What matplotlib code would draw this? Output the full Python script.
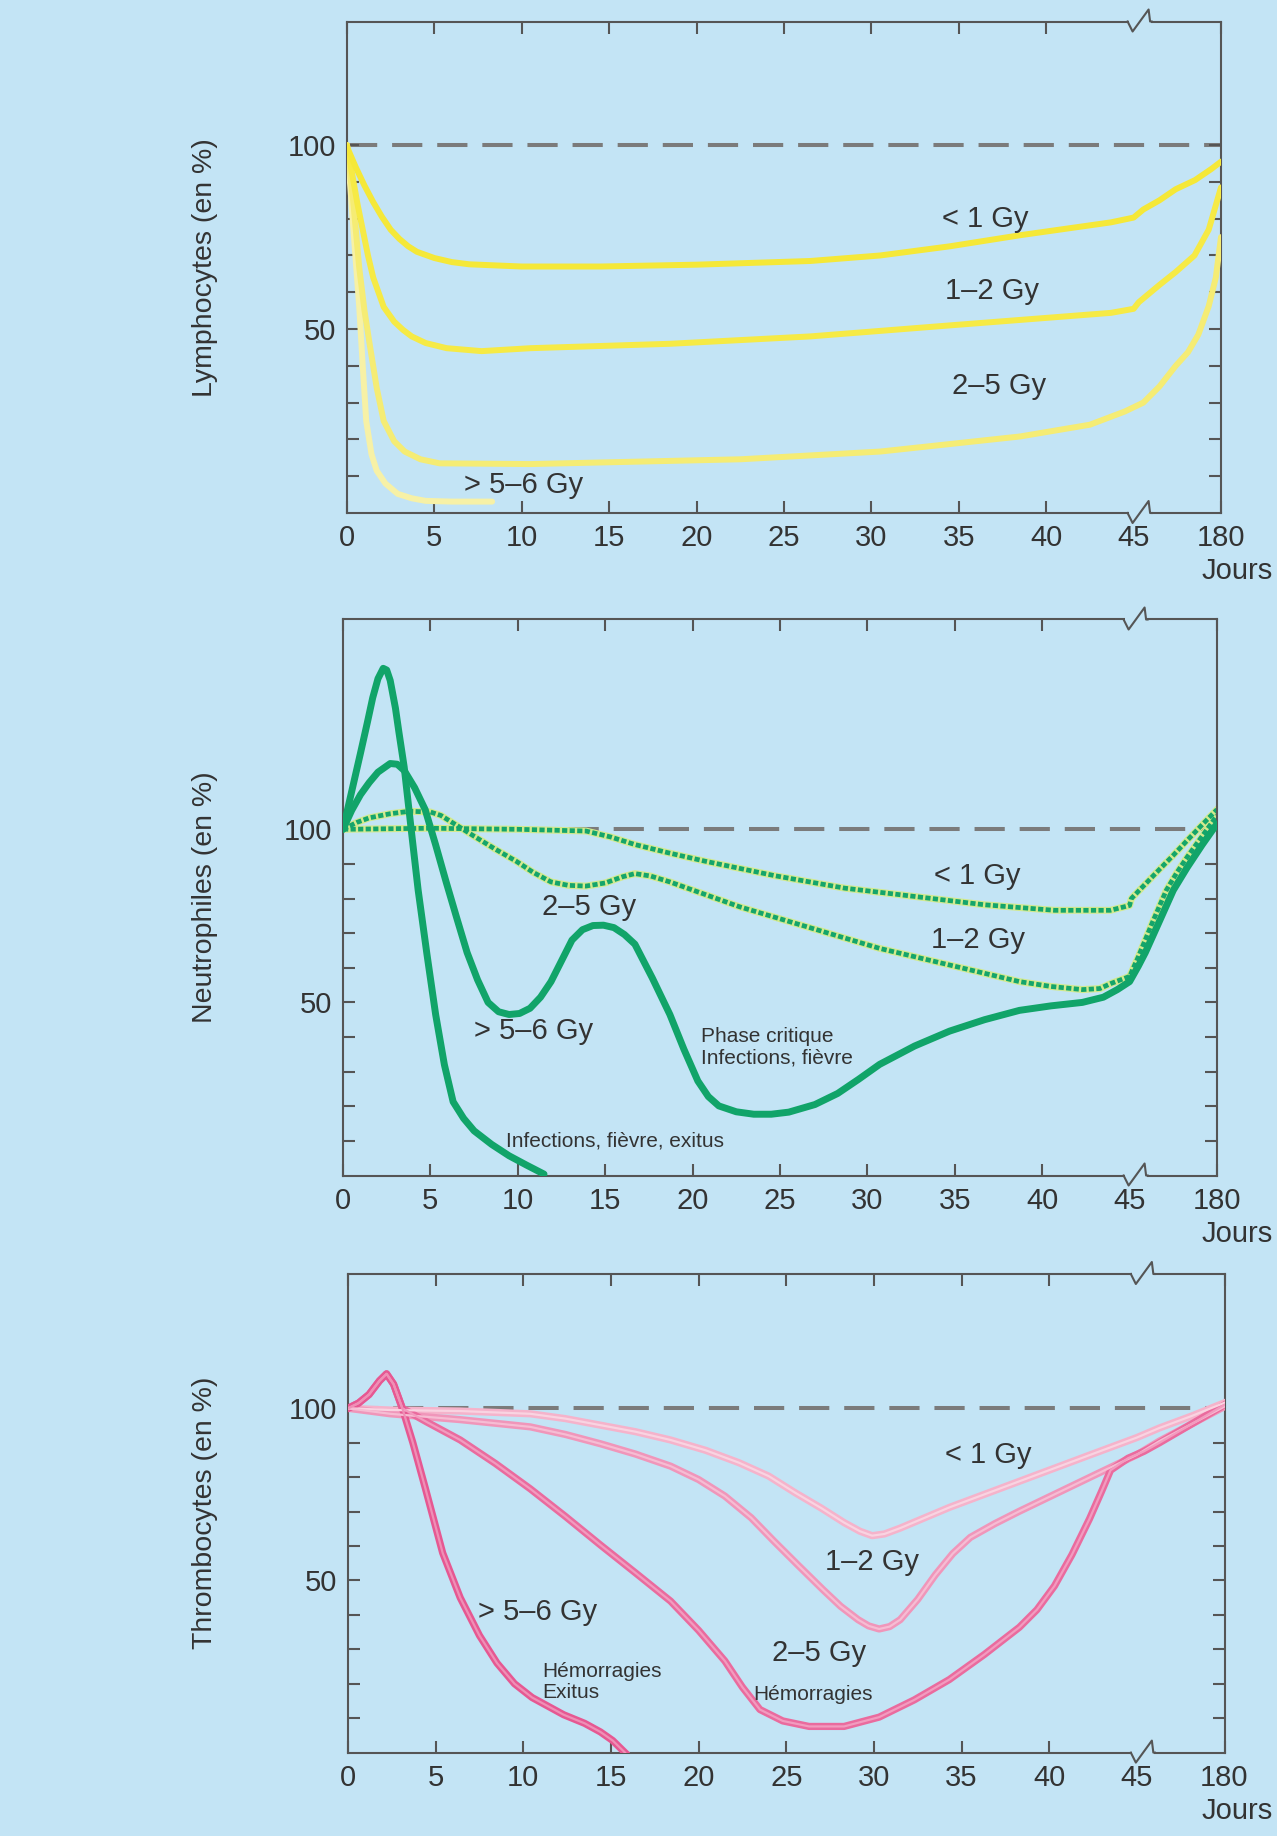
"""
Évolution des lymphocytes, neutrophiles et thrombocytes après irradiation
(en % de la valeur initiale) selon la dose reçue.
"""
import matplotlib
matplotlib.use("Agg")
import numpy as np
import matplotlib.pyplot as plt
from matplotlib.lines import Line2D
from matplotlib.transforms import IdentityTransform

plt.rcParams["font.family"] = ["Liberation Sans", "DejaVu Sans"]

# x axis: 0..45 days linear, then a break, last tick = 180 days
XTICK_DAYS = [0, 5, 10, 15, 20, 25, 30, 35, 40, 45, 180]
XTICK_LABELS = ["0", "5", "10", "15", "20", "25", "30", "35", "40", "45", "180"]
DOSES = ["< 1 Gy", "1–2 Gy", "2–5 Gy", "> 5–6 Gy"]

# DATA: day -> % of initial count
LYMPH_LT1_D = [0, 0.5, 1, 1.5, 2, 2.5, 3, 3.5, 4, 5, 6, 7, 10, 14.5, 20, 26.5, 30.5, 34.5, 38.5,
               43.7, 45, 60, 85, 110, 140, 165, 180]
LYMPH_LT1_V = [99.5, 94, 89, 84.5, 80.5, 77, 74.5, 72.5, 71, 69.3, 68.2, 67.6, 67, 67, 67.5, 68.5, 70,
               72.5, 75.5, 79, 80.3, 82.5, 85, 88, 90.5, 93.5, 95.5]
LYMPH_12_D = [0, 0.3, 0.6, 0.9, 1.2, 1.5, 2.1, 2.7, 3.2, 3.7, 4.5, 5.7, 7.7, 10.5, 18.5, 26.5, 34.5,
              43.7, 45, 53, 85, 110, 139, 161, 180]
LYMPH_12_V = [100, 92, 84, 77, 70, 64, 56, 52, 49.8, 48, 46.2, 44.8, 44, 44.8, 46, 48, 51,
              54.4, 55.5, 57.3, 62, 65.5, 70, 77, 88.5]
LYMPH_25_D = [0, 0.35, 0.7, 1, 1.3, 1.7, 2.1, 2.7, 3.3, 4.2, 5.3, 10.5, 22.5, 30.5, 38.5, 42.5,
              44.5, 60, 85, 110, 129, 145, 161, 172, 180]
LYMPH_25_V = [100, 85, 66.7, 55, 45.8, 34, 25, 19.5, 16.7, 14.6, 13.5, 13.3, 14.6, 16.7, 20.8, 24,
              27.6, 30, 34.4, 40, 43.7, 48.5, 56.2, 64, 75]
LYMPH_56_D = [0, 0.2, 0.4, 0.7, 0.9, 1.1, 1.4, 1.7, 2.2, 2.9, 3.7, 4.5, 6, 8.3]
LYMPH_56_V = [100, 88, 75, 56, 40, 25, 16, 11.5, 8, 5.2, 4, 3.3, 3.1, 3.1]

NEUT_LT1_D = [0, 5, 10, 13.9, 15.3, 16.7, 18.7, 20.7, 24.7, 28.7, 32.7, 36.7, 40.7, 43.9, 45,
              47.7, 91, 112.5, 134, 158, 180]
NEUT_LT1_V = [100, 100.3, 100, 99.5, 97.8, 95.6, 93.1, 90.8, 86.6, 83, 80.6, 78.2, 76.6, 76.6, 78,
              80, 88.4, 92.5, 96.8, 101.5, 105.7]
NEUT_12_D = [0, 0.8, 1.5, 2.7, 3.8, 5, 5.6, 6.3, 7.5, 8.7, 9.9, 10.9, 11.9, 12.9, 13.9, 15, 16,
             16.7, 17.6, 18.7, 22.7, 26.7, 30.7, 34.7, 38.7, 40.5, 42.3, 43.3, 43.9, 45, 58.5, 80,
             101.7, 118, 134, 157, 180]
NEUT_12_V = [100, 102, 103.3, 104.5, 105.2, 105, 104, 101.8, 98, 94.3, 90.8, 87.5, 84.8, 83.8, 83.6,
             84.5, 86.3, 87.2, 86.5, 84.8, 77.6, 71.6, 65.6, 60.8, 56, 54.6, 53.7, 54, 55.4, 57.5,
             63.2, 73, 82.4, 87.5, 92, 98, 104]
NEUT_25_D = [0, 0.5, 1, 1.5, 2, 2.7, 3.1, 3.5, 4.1, 4.7, 5.3, 5.9, 6.5, 7.1, 7.7, 8.3, 8.9, 9.5,
             10.1, 10.7, 11.3, 11.9, 12.5, 13.1, 13.7, 14.3, 14.9, 15.5, 16.1, 16.7, 17.7, 18.7,
             19.5, 20.3, 20.9, 21.5, 22.5, 23.5, 24.5, 25.5, 27, 28.3, 29.5, 30.7, 32.7, 34.7,
             36.7, 38.7, 40.5, 42.3, 43.5, 44.3, 45, 58.5, 69.3, 90, 112.5, 134, 157, 180]
NEUT_25_V = [100, 105.5, 110, 113.5, 116.5, 119, 118.8, 117, 112, 105.7, 95.5, 84.8, 74.5, 64.4,
             56.5, 50, 47.3, 46.5, 46.8, 48.3, 51.5, 56, 62, 68, 71, 72.2, 72.3, 71.6, 69.6, 66.8,
             57, 46.5, 36.5, 27.3, 22.8, 20.1, 18.4, 17.7, 17.7, 18.3, 20.5, 23.7, 27.8, 32.1, 37.4,
             41.7, 45, 47.7, 49, 50, 51.5, 53.7, 56, 60.5, 64.4, 73, 82.4, 89, 95.5, 101.6]
NEUT_56_D = [0, 0.5, 1, 1.4, 1.7, 2, 2.3, 2.5, 2.7, 3, 3.2, 3.5, 3.9, 4.3, 4.8, 5.3, 5.8, 6.3,
             6.9, 7.5, 8.5, 9.5, 10.5, 11.5]
NEUT_56_V = [100, 111, 122, 131, 138, 143.5, 146.5, 146, 143, 135, 128, 118, 100, 82.4, 64, 46.5,
             32, 21.3, 16.5, 12.9, 9, 5.7, 3, 0.4]

THROMB_LT1_D = [0, 2.4, 6.4, 10.4, 12.4, 14.4, 16.4, 18.4, 20.4, 22.3, 24, 25.5, 27, 28.3, 29.2,
                29.9, 30.6, 31.5, 34.3, 38.3, 42.3, 45, 80, 130, 180]
THROMB_LT1_V = [100, 99.5, 99.2, 98.4, 97, 95.1, 93.2, 90.8, 87.8, 84.2, 80.3, 75.5, 71, 66.8, 64.3,
                63, 63.5, 65.2, 71.2, 78.8, 86.4, 91.5, 94.3, 97.8, 101.6]
THROMB_12_D = [0, 2.4, 6.4, 10.4, 12.4, 14.4, 16.4, 18.4, 20, 21.5, 23, 24.3, 25.7, 27.1, 28.1,
               29.1, 29.7, 30.3, 30.9, 31.5, 32.5, 33.5, 34.5, 35.5, 36.9, 38.3, 40.3, 42.3, 45,
               80, 130, 180]
THROMB_12_V = [100, 98.4, 96.7, 94.6, 92.4, 89.7, 86.7, 83.2, 79.3, 74.5, 68.2, 61.4, 54.3, 47.3,
               42.5, 38.6, 36.8, 35.9, 36.6, 38.6, 44.5, 51.6, 57.8, 62.5, 66.5, 70.1, 75, 79.9,
               86.5, 90.5, 95.5, 100.5]
THROMB_25_D = [0, 0.6, 1.2, 1.8, 2.2, 2.6, 3.1, 4.5, 6.4, 8.4, 10.4, 12.4, 14.4, 16.4, 18.4, 20,
               21.5, 22.5, 23.5, 24.8, 26.3, 28.3, 30.3, 32.3, 34.3, 36.3, 38.3, 39.3, 40.3, 41.3,
               42.3, 43, 43.5, 44.5, 56, 80, 130, 180]
THROMB_25_V = [100, 101.5, 104, 108, 110, 107, 100, 96, 90.8, 84, 76.6, 68.6, 60.3, 52.2, 44, 35.5,
               26.6, 19, 12.5, 9.2, 7.6, 7.6, 10.3, 15.3, 21.2, 28.5, 36.4, 41.5, 48.4, 57.5,
               67.9, 76, 82, 85.5, 87.5, 90, 95.5, 101]
THROMB_56_D = [0, 0.6, 1.2, 1.8, 2.2, 2.6, 3.1, 3.7, 4.4, 5.4, 6.4, 7.5, 8.5, 9.5, 10.5, 12.3,
               13.5, 14.4, 15.1, 15.8]
THROMB_56_V = [100, 101.5, 104, 108, 110, 107, 100, 90, 77, 58, 45, 34, 26, 20, 16, 11, 8.5, 6,
               3.5, 0]

BG = "#C3E4F5"
SPINE = "#555555"
TXT = "#333333"
REF_GREY = "#7b7b7b"


def to_pos(days):
    """0-45 days linear, 45-180 squeezed into 5 units after the break."""
    d = np.asarray(days, dtype=float)
    return np.where(d <= 45, d, 45 + (d - 45) * 5.0 / 135.0)


def setup_axes(ax, ytop):
    ax.set_facecolor(BG)
    ax.set_xlim(0, 50)
    ax.set_ylim(0, ytop)
    for sp in ax.spines.values():
        sp.set_color(SPINE)
        sp.set_linewidth(1.5)
    ax.set_xticks(to_pos(XTICK_DAYS))
    ax.set_xticklabels(XTICK_LABELS)
    yt = list(range(10, 101, 10))
    ax.set_yticks(yt)
    ax.set_yticklabels(["50" if t == 50 else "100" if t == 100 else "" for t in yt])
    ax.tick_params(direction="in", length=8.5, width=1.5, color=SPINE,
                   labelsize=21, labelcolor=TXT, pad=8,
                   top=True, right=True)
    # no tick at the break
    for t in ax.xaxis.get_major_ticks()[9:10]:
        t.tick1line.set_visible(False)
        t.tick2line.set_visible(False)
    ax.axhline(100, color=REF_GREY, lw=2.9, dashes=(7.5, 3.7), zorder=1)


def draw_break(fig, ax):
    x45 = ax.transData.transform((45, 0))[0]
    for yax in (0, 1):
        yd = ax.transAxes.transform((0, yax))[1]
        fig.add_artist(Line2D([x45 - 5, x45 + 17], [yd, yd], transform=IdentityTransform(),
                              color=BG, lw=3, solid_capstyle="butt", zorder=5))
        fig.add_artist(Line2D([x45 - 6, x45 - 1, x45 + 15, x45 + 16.5, x45 + 18],
                              [yd, yd - 10, yd + 12, yd, yd],
                              transform=IdentityTransform(), color=SPINE, lw=1.5, zorder=6))


def solid(ax, d, v, color, lw=4.3, z=3):
    ax.plot(to_pos(d), v, color=color, lw=lw, solid_joinstyle="round",
            solid_capstyle="round", zorder=z)


def dotted(ax, d, v, color="#14A56B", halo="#D3EA8E"):
    x = to_pos(d)
    ax.plot(x, v, color=halo, lw=5.0, solid_joinstyle="round", zorder=2)
    ax.plot(x, v, color=color, lw=3.4, dashes=(1.1, 0.5), zorder=2.5)


def pink(ax, d, v, color, core):
    x = to_pos(d)
    ax.plot(x, v, color=color, lw=5.2, solid_joinstyle="round", zorder=3)
    ax.plot(x, v, color=core, lw=1.6, solid_joinstyle="round", zorder=3.1)


def gy(ax, x, y, s, ha="center"):
    ax.text(x, y, s, fontsize=21, color=TXT, ha=ha, va="center", zorder=4)


def note(ax, x, y, s):
    ax.text(x, y, s, fontsize=15, color=TXT, ha="left", va="center",
            linespacing=1.15, zorder=4)


def main():
    W, H = 1277, 1836
    fig = plt.figure(figsize=(W / 100, H / 100), dpi=100, facecolor=BG)

    # pixel boxes (left, top, right, bottom) of the three panels
    boxes = [(347, 21.5, 1221, 513), (343, 619.5, 1217, 1175.5), (348, 1274, 1224.5, 1752.6)]
    ytops = [133.6, 160.6, 139]
    ylabels = ["Lymphocytes (en %)", "Neutrophiles (en %)", "Thrombocytes (en %)"]
    axes = []
    for (l, t, r, b), ytop, lab in zip(boxes, ytops, ylabels):
        ax = fig.add_axes([l / W, 1 - b / H, (r - l) / W, (b - t) / H])
        setup_axes(ax, ytop)
        fig.text(205 / W, 1 - (t + b) / 2 / H, lab, rotation=90, ha="center", va="center",
                 fontsize=20.5, color=TXT)
        fig.text(1273 / W, 1 - (b + 58) / H, "Jours", ha="right", va="center",
                 fontsize=21, color=TXT)
        axes.append(ax)
    ax_l, ax_n, ax_t = axes

    # Lymphocytes
    solid(ax_l, LYMPH_56_D, LYMPH_56_V, "#F7F1A6")
    solid(ax_l, LYMPH_25_D, LYMPH_25_V, "#F5EC74")
    solid(ax_l, LYMPH_12_D, LYMPH_12_V, "#F6EA45")
    solid(ax_l, LYMPH_LT1_D, LYMPH_LT1_V, "#F5E838")
    gy(ax_l, 36.5, 80, DOSES[0])
    gy(ax_l, 36.9, 60.4, DOSES[1])
    gy(ax_l, 37.3, 34.4, DOSES[2])
    gy(ax_l, 10.1, 7.6, DOSES[3])

    # Neutrophiles
    dotted(ax_n, NEUT_LT1_D, NEUT_LT1_V)
    dotted(ax_n, NEUT_12_D, NEUT_12_V)
    solid(ax_n, NEUT_25_D, NEUT_25_V, "#11A469", lw=5)
    solid(ax_n, NEUT_56_D, NEUT_56_V, "#11A469", lw=5)
    gy(ax_n, 36.3, 86.6, DOSES[0])
    gy(ax_n, 36.3, 68, DOSES[1])
    gy(ax_n, 14.1, 77.6, DOSES[2])
    gy(ax_n, 10.9, 41.7, DOSES[3])
    note(ax_n, 20.5, 37, "Phase critique\nInfections, fièvre")
    note(ax_n, 9.3, 9.9, "Infections, fièvre, exitus")

    # Thrombocytes
    pink(ax_t, THROMB_LT1_D, THROMB_LT1_V, "#F5B3CB", "#F9D3E1")
    pink(ax_t, THROMB_12_D, THROMB_12_V, "#F096BA", "#F6BCD3")
    pink(ax_t, THROMB_25_D, THROMB_25_V, "#EA6B9E", "#F29BBF")
    pink(ax_t, THROMB_56_D, THROMB_56_V, "#E65892", "#EF8FB6")
    gy(ax_t, 36.5, 86.4, DOSES[0])
    gy(ax_t, 29.9, 55.4, DOSES[1])
    gy(ax_t, 26.9, 28.8, DOSES[2])
    gy(ax_t, 10.8, 40.8, DOSES[3])
    note(ax_t, 11.1, 20.4, "Hémorragies\nExitus")
    note(ax_t, 23.1, 16.8, "Hémorragies")

    for ax in axes:
        draw_break(fig, ax)

    fig.savefig("out.png", dpi=100, facecolor=BG)


if __name__ == "__main__":
    main()
